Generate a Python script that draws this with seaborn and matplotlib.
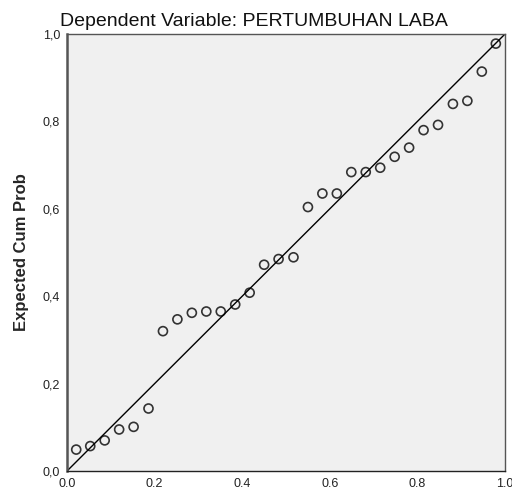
import matplotlib
matplotlib.use("Agg")
import matplotlib.pyplot as plt
import seaborn as sns
import pandas as pd

# P-P plot data
observed_cum_prob = [0.021, 0.053, 0.086, 0.119, 0.152, 0.186, 0.219, 0.252,
                     0.285, 0.318, 0.351, 0.384, 0.417, 0.450, 0.483, 0.517,
                     0.550, 0.583, 0.616, 0.649, 0.682, 0.715, 0.748, 0.781,
                     0.814, 0.847, 0.881, 0.914, 0.947, 0.979]
expected_cum_prob = [0.049, 0.057, 0.070, 0.095, 0.101, 0.143, 0.320, 0.347,
                     0.362, 0.365, 0.365, 0.381, 0.408, 0.472, 0.485, 0.489,
                     0.604, 0.635, 0.635, 0.684, 0.684, 0.694, 0.719, 0.740,
                     0.780, 0.792, 0.840, 0.847, 0.914, 0.978]
ref_line = [0.0, 1.0]
x_ticks = [0.0, 0.2, 0.4, 0.6, 0.8, 1.0]
x_tick_labels = ["0.0", "0.2", "0.4", "0.6", "0.8", "1.0"]
y_ticks = [0.0, 0.2, 0.4, 0.6, 0.8, 1.0]
y_tick_labels = ["0,0", "0,2", "0,4", "0,6", "0,8", "1,0"]

df = pd.DataFrame({"obs": observed_cum_prob, "exp": expected_cum_prob})

sns.set_style("white")
plt.rcParams['font.family'] = ['Liberation Sans', 'DejaVu Sans']

fig = plt.figure(figsize=(5.12, 4.92), dpi=100)
ax = fig.add_axes([0.1309, 0.0427, 0.8555, 0.8882])
ax.set_facecolor("#f0f0f0")

sns.lineplot(x=ref_line, y=ref_line, color="black", linewidth=1.0, ax=ax)
sns.scatterplot(data=df, x="obs", y="exp", s=42, marker="o",
                facecolor="none", edgecolor="#333333", linewidth=1.2, ax=ax)

ax.set_xlim(0, 1)
ax.set_ylim(0, 1)
ax.set_xticks(x_ticks)
ax.set_xticklabels(x_tick_labels, fontsize=9, color="#222222")
ax.set_yticks(y_ticks)
ax.set_yticklabels(y_tick_labels, fontsize=9, color="#222222")
ax.tick_params(axis="both", length=4, width=1.2, color="#333333", pad=1)

for name, sp in ax.spines.items():
    sp.set_visible(True)
    sp.set_color("#555555")
    sp.set_linewidth(1.0)
ax.spines["left"].set_linewidth(1.8)
ax.spines["bottom"].set_color("#222222")

ax.set_xlabel("")
ax.set_ylabel("Expected Cum Prob", fontsize=12, fontweight="bold", labelpad=10)
fig.text(254 / 512, 1 - 21 / 492, "Dependent Variable: PERTUMBUHAN LABA",
         fontsize=14, ha="center", va="center", color="#111111")

fig.savefig("out.png", dpi=100, facecolor="white")
